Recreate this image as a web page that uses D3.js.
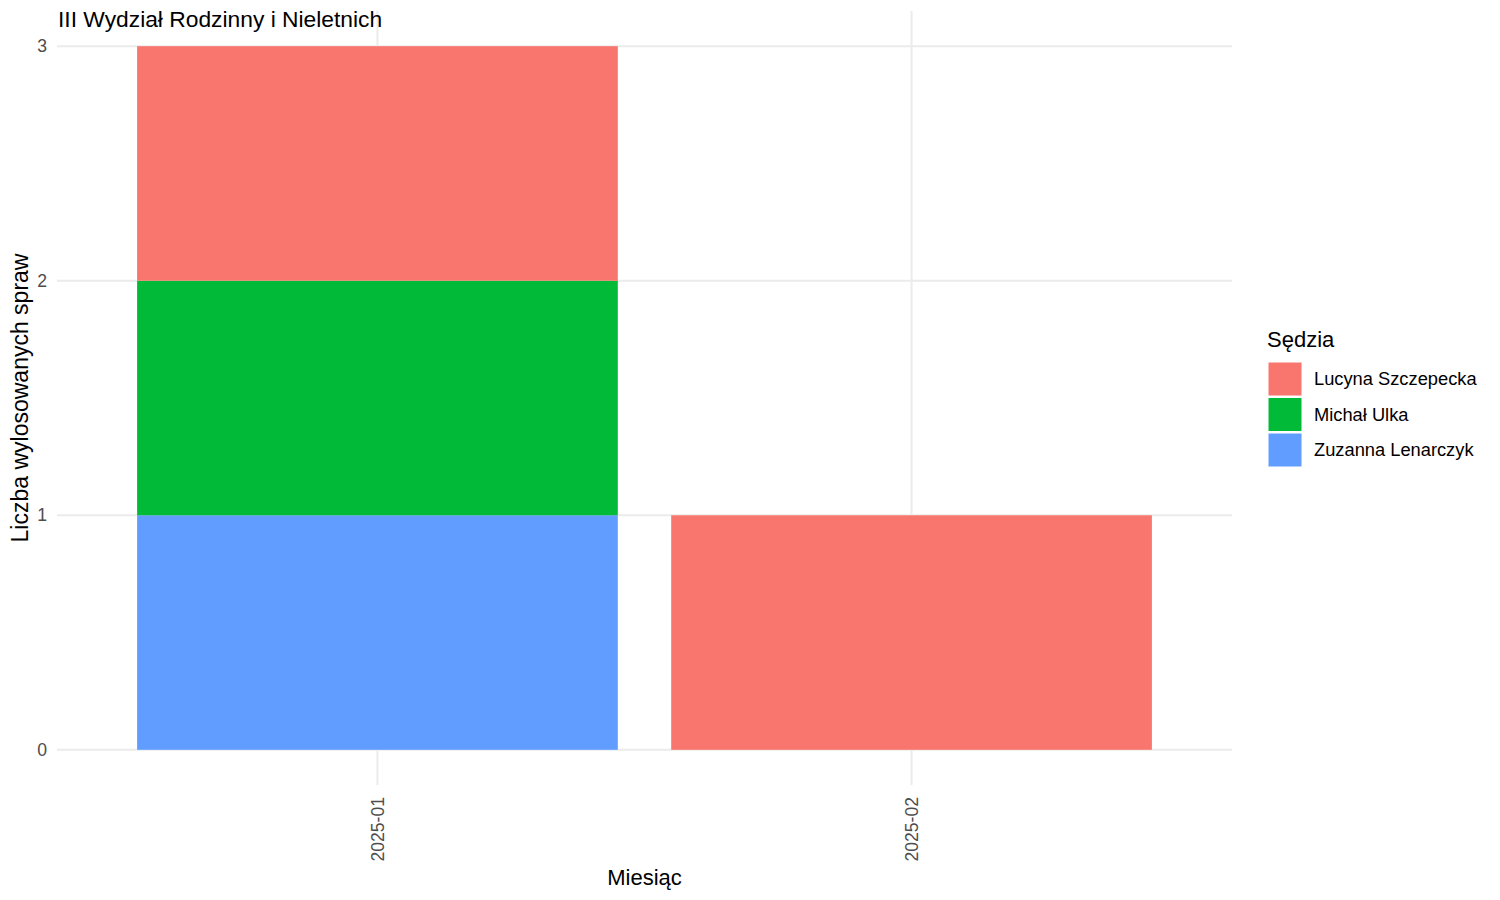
<!DOCTYPE html>
<html><head><meta charset="utf-8">
<script src="https://cdn.jsdelivr.net/npm/d3@7"></script>
<style>body{margin:0;background:#fff;} text{font-family:"Liberation Sans",Arial,sans-serif;}</style>
</head><body>
<svg id="c" width="1500" height="900"></svg>
<script>
const months = ["2025-01", "2025-02"];
const judges = ["Lucyna Szczepecka", "Michał Ulka", "Zuzanna Lenarczyk"];
const colors = ["#F8766D", "#00BA38", "#619CFF"];
const lucyna = [1, 1];
const michal = [1, 0];
const zuzanna = [1, 0];
const yTicks = [0, 1, 2, 3];

const series = {"Lucyna Szczepecka": lucyna, "Michał Ulka": michal, "Zuzanna Lenarczyk": zuzanna};
const rows = months.map((m, i) => {
  const r = {month: m};
  judges.forEach(j => r[j] = series[j][i]);
  return r;
});
const stack = d3.stack().keys(judges.slice().reverse())(rows);

const svg = d3.select("#c");
const L = 57, R = 1232, T = 11, B = 785;
const bw = (R - L) / (months.length + 0.2);
const xc = m => L + bw * (0.6 + months.indexOf(m));
const y = d3.scaleLinear().domain([-0.15, 3.15]).range([B, T]);

const g = svg.append("g");
g.selectAll(".hg").data(yTicks).enter().append("line")
  .attr("x1", L).attr("x2", R).attr("y1", d => y(d)).attr("y2", d => y(d))
  .attr("stroke", "#EBEBEB").attr("stroke-width", 2);
g.selectAll(".vg").data(months).enter().append("line")
  .attr("x1", d => xc(d)).attr("x2", d => xc(d)).attr("y1", T).attr("y2", B)
  .attr("stroke", "#EBEBEB").attr("stroke-width", 2);

const colorOf = d3.scaleOrdinal().domain(judges).range(colors);
stack.forEach(s => {
  g.selectAll(null).data(s.filter(d => d[1] - d[0] > 0)).enter().append("rect")
    .attr("x", d => xc(d.data.month) - bw * 0.45)
    .attr("width", bw * 0.9)
    .attr("y", d => y(d[1]))
    .attr("height", d => y(d[0]) - y(d[1]))
    .attr("fill", colorOf(s.key));
});

g.selectAll(".yt").data(yTicks).enter().append("text")
  .attr("x", 47).attr("y", d => y(d)).attr("dy", "0.35em")
  .attr("text-anchor", "end").attr("font-size", 17.6).attr("fill", "#4D4D4D").text(d => d);

g.selectAll(".xt").data(months).enter().append("text")
  .attr("transform", d => `translate(${xc(d)},797) rotate(-90)`)
  .attr("dy", "0.35em").attr("text-anchor", "end")
  .attr("font-size", 17.6).attr("fill", "#4D4D4D").text(d => d);

svg.append("text").attr("x", (L + R) / 2).attr("y", 885).attr("text-anchor", "middle")
  .attr("font-size", 22).attr("fill", "#000").text("Miesiąc");
svg.append("text").attr("transform", `translate(20,${(T + B) / 2}) rotate(-90)`)
  .attr("dy", "0.35em").attr("text-anchor", "middle")
  .attr("font-size", 23).attr("fill", "#000").text("Liczba wylosowanych spraw");
svg.append("text").attr("x", 58).attr("y", 27).attr("font-size", 22.8).attr("fill", "#000")
  .text("III Wydział Rodzinny i Nieletnich");

svg.append("text").attr("x", 1267).attr("y", 347).attr("font-size", 22).attr("fill", "#000").text("Sędzia");
const lg = svg.selectAll(".lg").data(judges).enter().append("g")
  .attr("transform", (d, i) => `translate(1268,${362 + i * 35.5})`);
lg.append("rect").attr("width", 34).attr("height", 34).attr("fill", d => colorOf(d))
  .attr("stroke", "#fff").attr("stroke-width", 1);
lg.append("text").attr("x", 46).attr("y", 17).attr("dy", "0.35em")
  .attr("font-size", 18.3).attr("fill", "#000").text(d => d);
</script>
</body></html>
